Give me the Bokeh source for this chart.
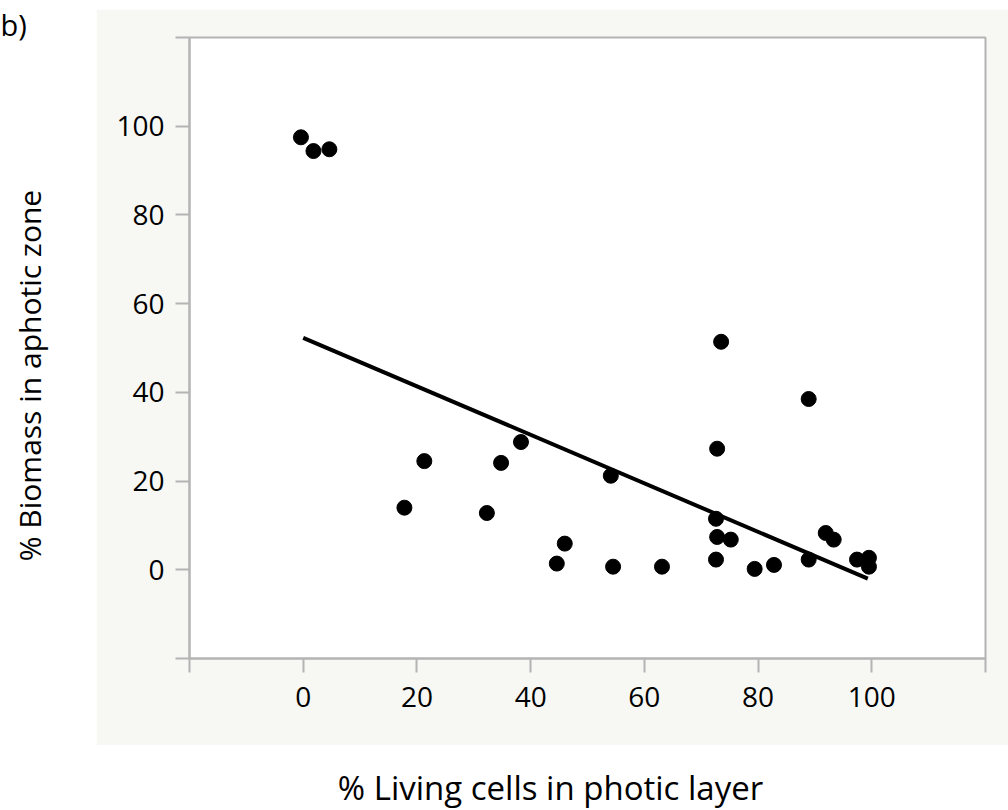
import math
from bokeh.plotting import figure
from bokeh.models import ColumnDataSource, Label, FixedTicker, Range1d
from bokeh.layouts import row, column
from bokeh.embed import file_html
from bokeh.resources import INLINE

# ---- data ----
living_pct = [-0.4, 1.8, 4.6, 17.8, 21.3, 32.3, 34.8, 38.3, 44.6, 46.0, 54.1, 54.5,
              63.1, 73.5, 72.8, 72.6, 72.8, 72.6, 75.2, 79.4, 82.8, 88.9, 88.9,
              91.9, 93.3, 97.4, 99.5, 99.5]
biomass_pct = [97.5, 94.4, 94.8, 14.0, 24.5, 12.8, 24.1, 28.8, 1.4, 5.9, 21.2, 0.7,
               0.7, 51.4, 27.3, 11.5, 7.4, 2.3, 6.8, 0.2, 1.1, 38.5, 2.3,
               8.3, 6.8, 2.3, 2.7, 0.7]
fit_x = [0.0, 99.3]
fit_y = [52.3, -2.0]
tick_values = [-20, 0, 20, 40, 60, 80, 100, 120]
x_title = "% Living cells in photic layer"
y_title = "% Biomass in aphotic zone"
panel_tag = "b)"

FONT = "Open Sans"
AXIS_GREY = "#b4b4b4"
PANEL_GREY = "#f7f7f3"

# ---- main (grey panel) figure ----
MW, MH = 912, 736
p = figure(width=MW, height=MH, output_backend="svg", toolbar_location=None,
           x_range=Range1d(-20, 120), y_range=Range1d(-20, 120),
           min_border_left=93, min_border_right=23, min_border_top=28, min_border_bottom=87)
p.margin = (9, 0, 0, 0)
p.border_fill_color = PANEL_GREY
p.background_fill_color = "white"
p.outline_line_color = AXIS_GREY
p.outline_line_width = 2
p.xgrid.visible = False
p.ygrid.visible = False

overrides = {-20: "", 120: ""}
for ax in (p.xaxis[0], p.yaxis[0]):
    ax.ticker = FixedTicker(ticks=tick_values, minor_ticks=[])
    ax.major_label_overrides = overrides
    ax.axis_line_color = AXIS_GREY
    ax.axis_line_width = 2
    ax.major_tick_line_color = AXIS_GREY
    ax.major_tick_line_width = 2
    ax.major_tick_out = 14
    ax.major_tick_in = 0
    ax.minor_tick_line_color = None
    ax.major_label_text_font = FONT
    ax.major_label_text_font_size = "28px"
    ax.major_label_text_color = "black"
p.yaxis[0].major_label_standoff = 11
p.xaxis[0].major_label_standoff = 14

src = ColumnDataSource(dict(x=living_pct, y=biomass_pct))
p.scatter("x", "y", source=src, size=15, fill_color="black", line_color="black")
p.line(fit_x, fit_y, line_color="black", line_width=4)


def text_fig(w, h):
    f = figure(width=w, height=h, output_backend="svg", toolbar_location=None,
               x_axis_location=None, y_axis_location=None, min_border=0,
               x_range=Range1d(0, 1), y_range=Range1d(0, 1))
    f.outline_line_color = None
    f.border_fill_color = "white"
    f.background_fill_color = "white"
    f.xgrid.visible = False
    f.ygrid.visible = False
    return f


# ---- left strip: y title and panel tag ----
left = text_fig(96, 810)
left.add_layout(Label(x=29, y=810 - 375, x_units="screen", y_units="screen",
                      text=y_title, text_font=FONT, text_font_size="30px", angle=math.pi / 2,
                      text_align="center", text_baseline="middle", text_color="black"))
left.add_layout(Label(x=0, y=806, x_units="screen", y_units="screen",
                      text=panel_tag, text_font=FONT, text_font_size="29px",
                      text_align="left", text_baseline="top", text_color="black"))

# ---- bottom strip: x title (frame is aligned with the main frame) ----
bottom = text_fig(912, 65)
bottom.add_layout(Label(x=361, y=23, x_units="screen", y_units="screen",
                        text=x_title, text_font=FONT, text_font_size="33px",
                        text_align="center", text_baseline="alphabetic", text_color="black"))

layout = row(left, column(p, bottom, spacing=0), spacing=0)

open("out.html", "w").write(file_html(layout, INLINE))
